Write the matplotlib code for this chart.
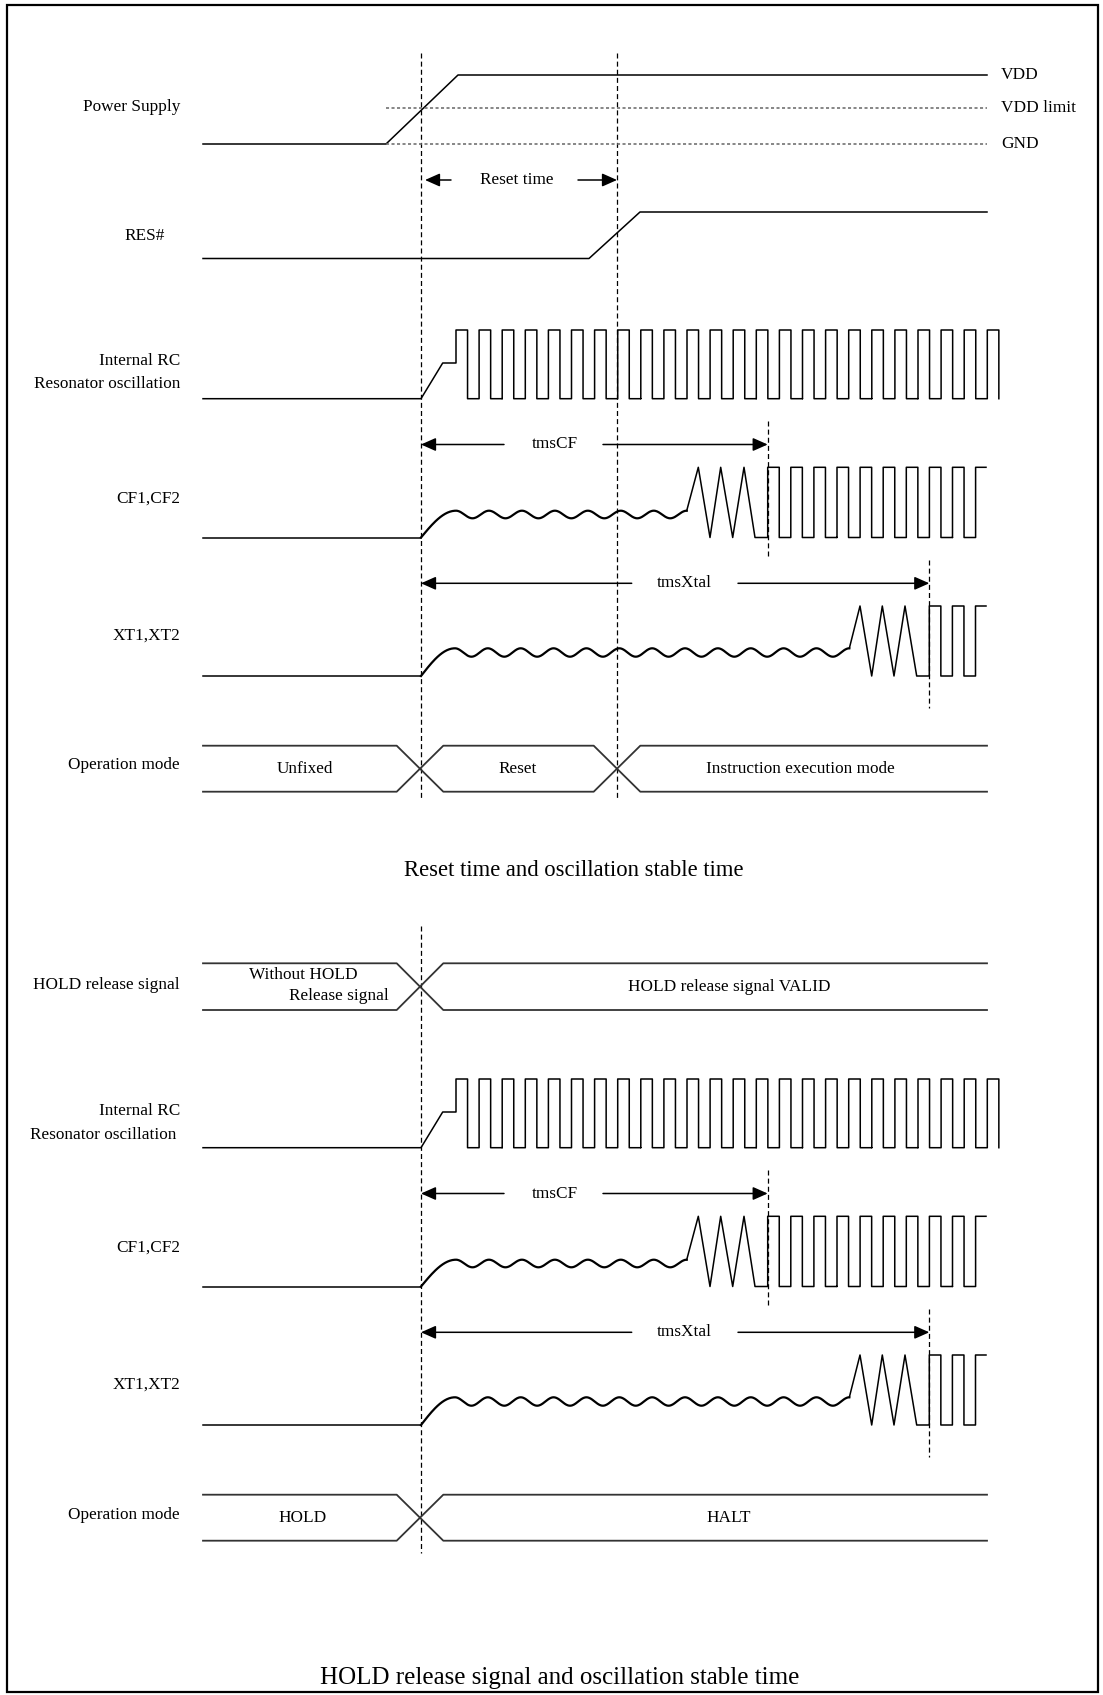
import numpy as np
import matplotlib.pyplot as plt

plt.rcParams['font.family'] = ['Liberation Serif', 'DejaVu Serif']

W, H = 1103, 1695
fig = plt.figure(figsize=(W / 100, H / 100), dpi=100)
ax = fig.add_axes([0, 0, 1, 1])
ax.set_xlim(0, W)
ax.set_ylim(H, 0)
ax.axis('off')

# ---- timing (px along the time axis) ----
t_begin, t_end = 203, 987          # ends of the level traces
t_ramp = (386, 458)                # power supply ramp
t_vdd = 421                        # VDD limit crossed -> RC starts
t_res_edge = (589, 640)            # RES# rising edge
t_res = 617                        # reset released
t_cf = 767.7                       # CF1/CF2 stable
t_xt = 929.3                       # XT1/XT2 stable

rc_ramp_end, rc_first_rise = 442.7, 456
clk_period = 23.1
rc_cycles = 24
cf_cycles, cf_end = 10, 986
xt_cycles, xt_end = 3, 986

cf_wave = dict(p0=456, T=32.96, n=7)
xt_wave = dict(p0=455, T=32.86, n=12)
cf_zig = [698.3, 710, 720.7, 732.7, 744, 755]
xt_zig = [860, 871.7, 882.3, 894, 905, 916.7]

# ---- rows (px from top) ----
dy = 749                           # offset of the HOLD diagram
pw_levels = dict(VDD=75, lim=108, GND=144)
res_levels = (212, 258.5)
rc_levels = (330, 363, 398.7)
cf_levels = (467.3, 537.5, 514.5, 3.8)
xt_levels = (606, 676, 652.5, 4.2)
bus_top = (745.7, 791.7)
hold_bus = (963.3, 1010)

top_labels = [("Power Supply", 180, 107), ("RES#", 165, 236),
              ("Internal RC", 180, 361), ("Resonator oscillation", 180, 384.5),
              ("CF1,CF2", 180, 499), ("XT1,XT2", 180, 636),
              ("Operation mode", 180, 765)]
bottom_labels = [("HOLD release signal", 180, 985), ("Internal RC", 180, 1111),
                 ("Resonator oscillation", 176, 1135), ("CF1,CF2", 180, 1248),
                 ("XT1,XT2", 180, 1385), ("Operation mode", 180, 1515)]
supply_names = ["VDD", "VDD limit", "GND"]
mode_top = [("Unfixed", 305), ("Reset", 518), ("Instruction execution mode", 800)]
mode_bottom = [("HOLD", 303), ("HALT", 729)]
captions = [("Reset time and oscillation stable time", 574, 871, 16.3),
            ("HOLD release signal and oscillation stable time", 560, 1678, 18)]

FS = 12.4
LW = 1.1
k = 'black'


def clock(x0, period, n, hi, lo, end=None):
    xs, ys = [], []
    for i in range(n):
        r = x0 + i * period
        f = r + period / 2
        xs += [r, r]
        ys += [lo, hi]
        if end is not None and i == n - 1:
            xs.append(end)
            ys.append(hi)
        else:
            xs += [f, f]
            ys += [hi, lo]
            if i < n - 1:
                xs.append(r + period)
                ys.append(lo)
    return xs, ys


def wavy(low, center, amp, p0, T, n, x0=t_vdd):
    t = np.linspace(0, 1, 30)
    xs = list(x0 + (p0 - x0) * t)
    ys = list(low - (low - (center - amp)) * np.sin(np.pi / 2 * t))
    xw = np.linspace(p0, p0 + n * T, 60 * n)
    xs += list(xw)
    ys += list(center - amp * np.cos(2 * np.pi * (xw - p0) / T))
    return xs, ys


def rc_trace(off):
    lo, mid, hi = rc_levels[2] + off, rc_levels[1] + off, rc_levels[0] + off
    xs = [t_begin, t_vdd, rc_ramp_end, rc_first_rise]
    ys = [lo, lo, mid, mid]
    cx, cy = clock(rc_first_rise, clk_period, rc_cycles, hi, lo)
    xs += cx
    ys += cy
    ys[4] = mid
    ax.plot(xs, ys, color=k, lw=LW)


def osc_trace(levels, wave, zig, t_stable, cycles, end, off):
    hi, lo, c, a = levels[0] + off, levels[1] + off, levels[2] + off, levels[3]
    ax.plot([t_begin, t_vdd], [lo, lo], color=k, lw=LW)
    wx, wy = wavy(lo, c, a, **wave)
    ax.plot(wx, wy, color=k, lw=1.6)
    zx = [wx[-1]] + zig + [t_stable]
    zy = [wy[-1]] + [hi if i % 2 == 0 else lo for i in range(len(zig))] + [lo]
    zy[-2] = lo
    cx, cy = clock(t_stable, clk_period, cycles, hi, lo, end=end)
    ax.plot(zx + cx, zy + cy, color=k, lw=LW)


def bus(top, bot, crosses, dxh=23.3):
    p1x, p1y, p2x, p2y = [t_begin], [top], [t_begin], [bot]
    a, b = top, bot
    for c in crosses:
        p1x += [c - dxh, c + dxh]
        p1y += [a, b]
        p2x += [c - dxh, c + dxh]
        p2y += [b, a]
        a, b = b, a
    p1x.append(t_end)
    p1y.append(a)
    p2x.append(t_end)
    p2y.append(b)
    ax.plot(p1x, p1y, color='#333333', lw=1.3)
    ax.plot(p2x, p2y, color='#333333', lw=1.3)


def vdash(x, y0, y1):
    ax.plot([x, x], [y0, y1], color=k, lw=0.9, dashes=(4, 2.5))


def span_arrow(y, x0, x1, gap0, gap1, text, tx):
    ap = dict(arrowstyle='-|>,head_length=0.45,head_width=0.2', color=k,
              lw=LW, shrinkA=0, shrinkB=0, mutation_scale=20)
    ax.annotate('', xy=(x0, y), xytext=(gap0, y), arrowprops=ap)
    ax.annotate('', xy=(x1, y), xytext=(gap1, y), arrowprops=ap)
    ax.text(tx, y, text, fontsize=FS, ha='center', va='center')


# ---- frame ----
ax.add_patch(plt.Rectangle((7, 5), 1091, 1687, fill=False, ec=k, lw=1.6))

# ---- upper diagram: reset ----
vdash(t_vdd, 53, 798)
vdash(t_res, 53, 798)

ax.plot([t_begin, t_ramp[0], t_ramp[1], t_end],
        [pw_levels['GND'], pw_levels['GND'], pw_levels['VDD'], pw_levels['VDD']],
        color=k, lw=LW)
for name, key in zip(supply_names, ['VDD', 'lim', 'GND']):
    if key != 'VDD':
        ax.plot([t_ramp[0], t_end], [pw_levels[key]] * 2, color='#666666',
                lw=1.1, dashes=(2, 1.6))
    ax.text(1001, pw_levels[key], name, fontsize=FS, ha='left', va='center')

span_arrow(180, 425, t_res, 451, 578, "Reset time", 517)

ax.plot([t_begin, t_res_edge[0], t_res_edge[1], t_end],
        [res_levels[1], res_levels[1], res_levels[0], res_levels[0]],
        color=k, lw=LW)

rc_trace(0)
span_arrow(444.5, t_vdd, t_cf, 504, 603, "tmsCF", 555)
vdash(t_cf, 420.7, 558.3)
osc_trace(cf_levels, cf_wave, cf_zig, t_cf, cf_cycles, cf_end, 0)
span_arrow(583.3, t_vdd, t_xt, 631.7, 738, "tmsXtal", 684)
vdash(t_xt, 560, 708)
osc_trace(xt_levels, xt_wave, xt_zig, t_xt, xt_cycles, xt_end, 0)

bus(bus_top[0], bus_top[1], [t_vdd - 1, t_res])
for txt, x in mode_top:
    ax.text(x, sum(bus_top) / 2, txt, fontsize=FS, ha='center', va='center')

for txt, x, y in top_labels:
    ax.text(x, y, txt, fontsize=FS, ha='right', va='center')

# ---- lower diagram: HOLD release ----
vdash(t_vdd, 926, 1553)
bus(hold_bus[0], hold_bus[1], [t_vdd - 1])
ax.text(303, 975, "Without HOLD", fontsize=FS, ha='center', va='center')
ax.text(389, 996, "Release signal", fontsize=FS, ha='right', va='center')
ax.text(729, sum(hold_bus) / 2, "HOLD release signal VALID", fontsize=FS,
        ha='center', va='center')

rc_trace(dy)
span_arrow(444.5 + dy, t_vdd, t_cf, 504, 603, "tmsCF", 555)
vdash(t_cf, 420.7 + dy, 558.3 + dy)
osc_trace(cf_levels, cf_wave, cf_zig, t_cf, cf_cycles, cf_end, dy)
span_arrow(583.3 + dy, t_vdd, t_xt, 631.7, 738, "tmsXtal", 684)
vdash(t_xt, 560 + dy, 708 + dy)
osc_trace(xt_levels, xt_wave, xt_zig, t_xt, xt_cycles, xt_end, dy)

bus(bus_top[0] + dy, bus_top[1] + dy, [t_vdd - 1])
for txt, x in mode_bottom:
    ax.text(x, sum(bus_top) / 2 + dy, txt, fontsize=FS, ha='center', va='center')

for txt, x, y in bottom_labels:
    ax.text(x, y, txt, fontsize=FS, ha='right', va='center')

for txt, x, y, fs in captions:
    ax.text(x, y, txt, fontsize=fs, ha='center', va='center')

fig.savefig('out.png', dpi=100)
